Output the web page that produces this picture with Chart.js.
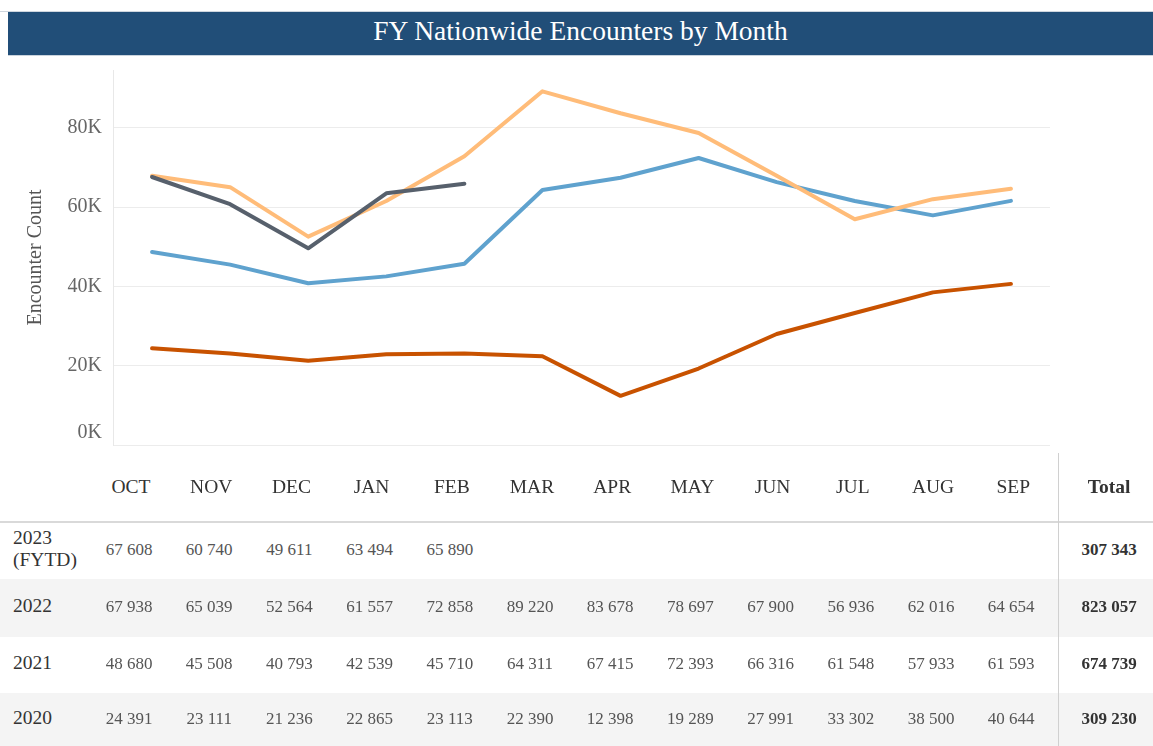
<!DOCTYPE html>
<html>
<head>
<meta charset="utf-8">
<title>FY Nationwide Encounters by Month</title>
<script src="https://cdn.jsdelivr.net/npm/chart.js@4.4.1/dist/chart.umd.min.js"></script>
<style>
    html, body { margin: 0; padding: 0; background: #fff; }
    body {
        width: 1153px; height: 746px; position: relative; overflow: hidden;
        font-family: 'Liberation Serif', 'Times New Roman', serif;
    }
    .top-rule { position: absolute; left: 0; top: 11px; width: 1153px; height: 1px; background: #cfd6de; }
    .title-bar {
        position: absolute; left: 8px; top: 12px; width: 1145px; height: 44px;
        background: #214e78; color: #fff; font-size: 27.5px; line-height: 38px;
        text-align: center; border-bottom: 1px solid #c9d3dd; box-sizing: border-box;
    }
    #encountersChart { position: absolute; left: 0; top: 56px; }
    .band { position: absolute; left: 0; width: 1153px; background: #f4f4f4; }
    .rule { position: absolute; background: #d9d9d9; }
    .cell { position: absolute; width: 80px; text-align: center; white-space: nowrap; line-height: 22px; }
    .month { font-size: 19.5px; color: #333; }
    .value { font-size: 17px; color: #555; }
    .total { font-size: 17px; color: #333; font-weight: bold; }
    .year { position: absolute; left: 13px; font-size: 19.5px; color: #333; line-height: 22px; }
</style>
</head>
<body>
<div class="top-rule"></div>
<div class="title-bar">FY Nationwide Encounters by Month</div>
<canvas id="encountersChart" width="1153" height="400"></canvas>
<div id="encountersTable"></div>

<script>
// données
const months = ['OCT', 'NOV', 'DEC', 'JAN', 'FEB', 'MAR', 'APR', 'MAY', 'JUN', 'JUL', 'AUG', 'SEP'];
const yearLabels = ['2023\n(FYTD)', '2022', '2021', '2020'];
const fy2023 = [67608, 60740, 49611, 63494, 65890];
const fy2022 = [67938, 65039, 52564, 61557, 72858, 89220, 83678, 78697, 67900, 56936, 62016, 64654];
const fy2021 = [48680, 45508, 40793, 42539, 45710, 64311, 67415, 72393, 66316, 61548, 57933, 61593];
const fy2020 = [24391, 23111, 21236, 22865, 23113, 22390, 12398, 19289, 27991, 33302, 38500, 40644];
const totals = [307343, 823057, 674739, 309230];
const yTicks = [0, 20000, 40000, 60000, 80000];

const seriesColors = ['#57606c', '#ffbc79', '#5fa2ce', '#c85200'];
const serif = "'Liberation Serif', 'Times New Roman', serif";

function formatNumber(v) {
    return String(v).replace(/\B(?=(\d{3})+(?!\d))/g, ' ');
}

class EncounterChart {
    constructor(canvasId) {
        this.canvasId = canvasId;
        this.chart = null;
    }

    init() {
        const ctx = document.getElementById(this.canvasId).getContext('2d');
        this.chart = new Chart(ctx, {
            type: 'line',
            data: {
                labels: months,
                datasets: this.getDatasets()
            },
            options: this.getChartOptions()
        });
    }

    getDatasets() {
        const rows = [fy2023, fy2022, fy2021, fy2020];
        return rows.map((data, i) => ({
            label: yearLabels[i].replace('\n', ' '),
            data: data,
            borderColor: seriesColors[i],
            backgroundColor: seriesColors[i],
            borderWidth: 4,
            borderCapStyle: 'round',
            borderJoinStyle: 'round',
            pointRadius: 0,
            pointHoverRadius: 0,
            tension: 0,
            fill: false
        }));
    }

    getChartOptions() {
        return {
            responsive: false,
            animation: false,
            layout: {
                padding: { top: 14, right: 103, bottom: 11, left: 20 }
            },
            plugins: {
                legend: { display: false },
                tooltip: { enabled: false }
            },
            scales: {
                x: {
                    type: 'category',
                    display: false,
                    offset: true
                },
                y: {
                    min: 0,
                    max: 94600,
                    afterBuildTicks: scale => {
                        scale.ticks = yTicks.map(v => ({ value: v }));
                    },
                    afterFit: scale => {
                        // largeur fixe, pas de marge pour les libellés
                        scale.width = 93;
                        scale.paddingTop = 0;
                        scale.paddingBottom = 0;
                    },
                    ticks: {
                        padding: 11,
                        color: '#666',
                        font: { family: serif, size: 20 },
                        callback: value => value === 0 ? ['0K', ''] : (value / 1000) + 'K'
                    },
                    grid: {
                        color: '#ececec',
                        lineWidth: 1,
                        drawTicks: false
                    },
                    border: {
                        display: true,
                        color: '#e8e8e8',
                        width: 1
                    },
                    title: {
                        display: true,
                        text: 'Encounter Count',
                        color: '#555',
                        font: { family: serif, size: 20 },
                        padding: { top: 4, bottom: 4 }
                    }
                }
            }
        };
    }
}

function addEl(parent, cls, text, style) {
    const el = document.createElement('div');
    el.className = cls;
    el.textContent = text;
    Object.assign(el.style, style);
    parent.appendChild(el);
    return el;
}

function renderTable() {
    const table = document.getElementById('encountersTable');
    const rowTops = [523, 579, 637, 693];
    const rowHeights = [56, 58, 56, 53];
    const colCenter = i => 131 + i * 80.2;
    const totalCenter = 1109;

    // bandes grises
    [1, 3].forEach(r => addEl(table, 'band', '', { top: rowTops[r] + 'px', height: rowHeights[r] + 'px' }));

    // lignes de séparation
    addEl(table, 'rule', '', { left: '0px', top: '521px', width: '1153px', height: '2px' });
    addEl(table, 'rule', '', { left: '1058px', top: '453px', width: '1px', height: '293px', background: '#d0d0d0' });

    // en-tête
    months.forEach((m, i) => addEl(table, 'cell month', m, { left: (colCenter(i) - 40) + 'px', top: '476px' }));
    addEl(table, 'cell month', 'Total', { left: (totalCenter - 40) + 'px', top: '476px', fontWeight: 'bold', fontSize: '19.5px' });

    const rows = [fy2023, fy2022, fy2021, fy2020];
    rows.forEach((data, r) => {
        const mid = rowTops[r] + rowHeights[r] / 2;
        const lines = yearLabels[r].split('\n');
        lines.forEach((txt, k) => {
            const top = mid - lines.length * 11 + k * 22 - 2;
            addEl(table, 'year', txt, { top: top + 'px' });
        });
        data.forEach((v, i) => {
            addEl(table, 'cell value', formatNumber(v), { left: (colCenter(i) - 42) + 'px', top: (mid - 12) + 'px' });
        });
        addEl(table, 'cell total', formatNumber(totals[r]), { left: (totalCenter - 40) + 'px', top: (mid - 12) + 'px' });
    });
}

let encounterChart;

document.addEventListener('DOMContentLoaded', function() {
    encounterChart = new EncounterChart('encountersChart');
    encounterChart.init();
    renderTable();
});
</script>
</body>
</html>
